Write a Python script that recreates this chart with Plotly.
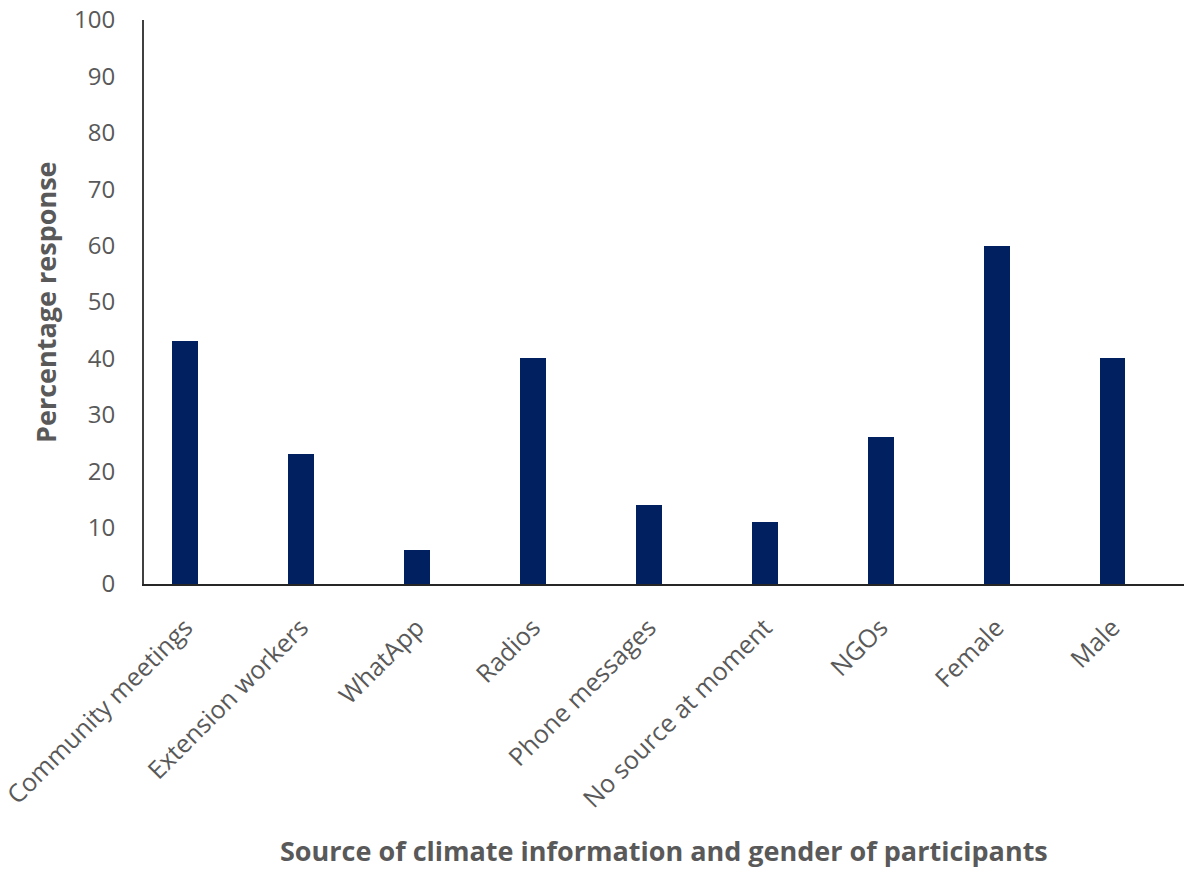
import plotly.graph_objects as go

categories = ["Community meetings", "Extension workers", "WhatApp", "Radios",
              "Phone messages", "No source at moment", "NGOs", "Female", "Male"]
values = [43, 23, 6, 40, 14, 11, 26, 60, 40]
y_ticks = [0, 10, 20, 30, 40, 50, 60, 70, 80, 90, 100]

fig = go.Figure()
fig.add_trace(go.Bar(
    x=categories, y=values,
    marker=dict(color="#002060", line=dict(width=0)),
    width=0.224,
))

gray = "#595959"
fig.update_layout(
    width=1184, height=870,
    margin=dict(l=144, r=0, t=20, b=286),
    plot_bgcolor="white", paper_bgcolor="white",
    showlegend=False,
    font=dict(family="Open Sans", color=gray),
    bargap=0,
)
fig.update_xaxes(
    type="category",
    range=[-0.356, 8.617],
    showline=True, linecolor="#262626", linewidth=2,
    showgrid=False, ticks="",
    tickangle=-45,
    tickfont=dict(size=25, color=gray),
    ticklabelstandoff=17,
)
fig.update_yaxes(
    range=[0, 100],
    tickvals=y_ticks,
    showline=True, linecolor="#404040", linewidth=2,
    showgrid=False, ticks="",
    zeroline=False,
    tickfont=dict(size=24, color=gray),
    ticklabelstandoff=22,
)
fig.add_annotation(
    text="<b>Percentage response</b>", textangle=-90,
    xref="paper", yref="paper", x=-0.0952, y=0.5,
    xanchor="center", yanchor="middle", showarrow=False,
    font=dict(size=27, color=gray),
)
fig.add_annotation(
    text="<b>Source of climate information and gender of participants</b>",
    xref="paper", yref="paper", x=0.5, y=-0.473,
    xanchor="center", yanchor="middle", showarrow=False,
    font=dict(size=27, color=gray),
)
fig.write_html("out.html")
